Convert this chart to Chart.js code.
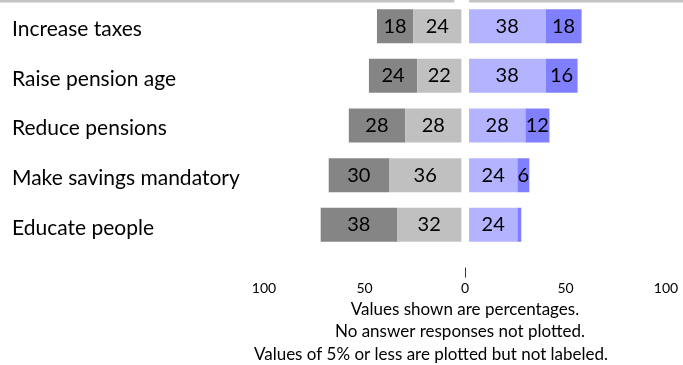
<!DOCTYPE html>
<html>
<head>
<meta charset="utf-8">
<script src="https://cdn.jsdelivr.net/npm/chart.js@4.4.1/dist/chart.umd.min.js"></script>
<style>
  body { margin: 0; background: #fff; }
  #wrap { width: 683px; height: 365px; }
</style>
</head>
<body>
<div id="wrap"><canvas id="myChart"></canvas></div>
<script>
const categories = ['Increase taxes', 'Raise pension age', 'Reduce pensions', 'Make savings mandatory', 'Educate people'];
const stronglyAgainst = [18, 24, 28, 30, 38];   // dark gray, outer left
const against = [24, 22, 28, 36, 32];           // light gray, inner left
const inFavor = [38, 38, 28, 24, 24];           // light blue, inner right
const stronglyInFavor = [18, 16, 12, 6, 2];     // dark blue, outer right
const axisTicks = [-100, -50, 0, 50, 100];
const footnote = ['Values shown are percentages.', 'No answer responses not plotted.', 'Values of 5% or less are plotted but not labeled.'];

const FONT = 'Lato, "Open Sans", sans-serif';
// small gap between the two panels (in axis units)
const LEFT_SHIFT = 1.8;
const RIGHT_SHIFT = 2;
// footnote lines are not centred on the same point in the original
const FOOT_DX = [0, -5, -34];
const FOOT_Y = [310, 332, 355];

const panelLines = {
    id: 'panelLines',
    beforeDraw(chart) {
        const c = chart.ctx;
        const l0 = chart.scales.xL.getPixelForValue(0);
        const r0 = chart.scales.xR.getPixelForValue(0);
        c.save();
        c.strokeStyle = '#c4c4c4';
        c.lineWidth = 2.5;
        c.beginPath();
        c.moveTo(0, 1.3); c.lineTo(l0 - 7, 1.3);
        c.moveTo(r0, 1.3); c.lineTo(chart.width, 1.3);
        c.stroke();
        c.restore();
    }
};

const barLabels = {
    id: 'barLabels',
    afterDatasetsDraw(chart) {
        const c = chart.ctx;
        c.save();
        c.font = '20px ' + FONT;
        c.fillStyle = '#000';
        c.textAlign = 'center';
        c.textBaseline = 'middle';
        chart.data.datasets.forEach((ds, i) => {
            chart.getDatasetMeta(i).data.forEach((bar, j) => {
                const v = Math.abs(ds.data[j]);
                if (v <= 5) return;
                c.fillText(String(v), (bar.x + bar.base) / 2, bar.y);
            });
        });
        c.restore();
    }
};

const footnotes = {
    id: 'footnotes',
    afterDraw(chart) {
        const c = chart.ctx;
        const x0 = chart.scales.x.getPixelForValue(0);
        c.save();
        c.font = '17px ' + FONT;
        c.fillStyle = '#000';
        c.textAlign = 'center';
        c.textBaseline = 'middle';
        footnote.forEach((t, i) => c.fillText(t, x0 + FOOT_DX[i], FOOT_Y[i]));
        c.restore();
    }
};

let myChart = new Chart(document.getElementById('myChart'), {
    type: 'bar',
    data: {
        labels: categories,
        datasets: [
            { label: 'Against', data: against.map(v => -v), backgroundColor: '#c0c0c0', xAxisID: 'xL' },
            { label: 'Strongly against', data: stronglyAgainst.map(v => -v), backgroundColor: '#858585', xAxisID: 'xL' },
            { label: 'In favor', data: inFavor, backgroundColor: '#b3b3ff', xAxisID: 'xR' },
            { label: 'Strongly in favor', data: stronglyInFavor, backgroundColor: '#8080ff', xAxisID: 'xR' }
        ]
    },
    options: {
        indexAxis: 'y',
        responsive: true,
        maintainAspectRatio: false,
        animation: false,
        layout: { padding: { left: 12, right: 17, top: 1.4, bottom: 0 } },
        datasets: { bar: { categoryPercentage: 1, barPercentage: 0.685 } },
        plugins: { legend: { display: false }, tooltip: { enabled: false } },
        scales: {
            y: {
                stacked: true,
                grid: { display: false },
                border: { display: false },
                ticks: { color: '#000', font: { family: FONT, size: 21 }, crossAlign: 'far', labelOffset: 3 },
                afterFit: s => { s.width = 252; s.paddingTop = 0; s.paddingBottom = 0; }
            },
            xL: {
                type: 'linear', display: false, stacked: true,
                min: -100 + LEFT_SHIFT, max: 100 + LEFT_SHIFT
            },
            xR: {
                type: 'linear', display: false, stacked: true,
                min: -100 - RIGHT_SHIFT, max: 100 - RIGHT_SHIFT
            },
            x: {
                type: 'linear', position: 'bottom',
                min: -100, max: 100,
                afterBuildTicks: s => { s.ticks = axisTicks.map(v => ({ value: v })); },
                border: { display: false },
                grid: {
                    drawOnChartArea: false,
                    tickLength: 28,
                    tickWidth: 1,
                    tickBorderDash: [0, 17.5, 11, 100],
                    tickColor: ctx => ctx.tick && ctx.tick.value === 0 ? '#333' : 'rgba(0,0,0,0)'
                },
                ticks: {
                    color: '#000', padding: 2, maxRotation: 0,
                    font: { family: FONT, size: 14 },
                    callback: v => Math.abs(v)
                },
                afterFit: s => { s.height = 115.4; }
            }
        }
    },
    plugins: [panelLines, barLabels, footnotes]
});
</script>
</body>
</html>
